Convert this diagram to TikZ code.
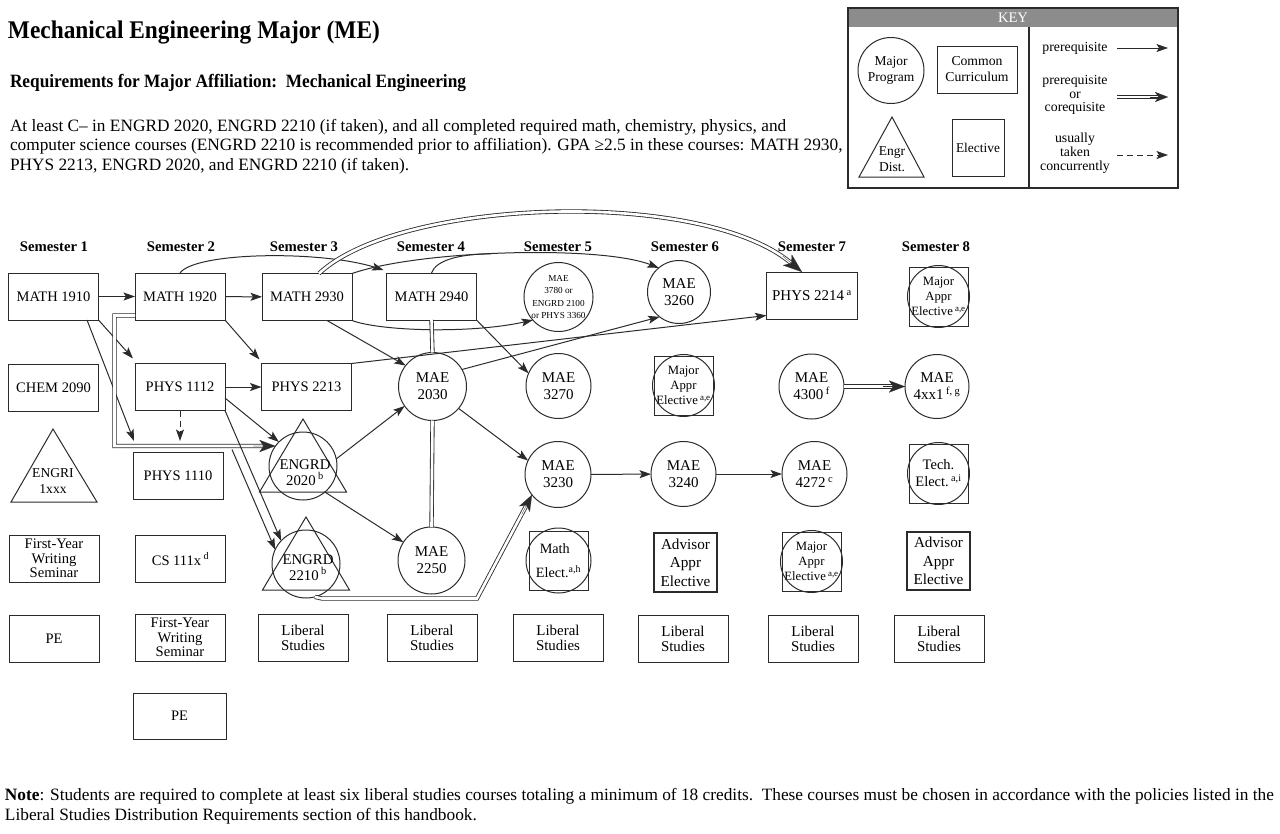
\documentclass[tikz,border=0pt]{standalone}
\usepackage{fontspec}
\setmainfont{Liberation Serif}
\newfontfamily\hdfont{Liberation Serif}[FakeStretch=0.92]
\usetikzlibrary{arrows.meta,calc}
\definecolor{lc}{gray}{0.17}
\definecolor{keygray}{gray}{0.55}
\newcommand{\fs}[2]{\fontsize{#1}{#2}\selectfont}
\begin{document}
\begin{tikzpicture}[x=1pt,y=-1pt,
  every node/.style={inner sep=0pt, outer sep=0pt, align=center},
  box/.style={draw=lc, line width=1pt, minimum width=90pt, minimum height=47pt, font=\fs{14.5}{15}},
  circ/.style={draw=lc, circle, line width=1pt, font=\fs{15}{17}},
  sqr/.style={draw=lc, line width=1pt, minimum width=59pt, minimum height=59pt, font=\fs{12.7}{15}},
  ring/.style={lc, line width=1pt},
  sem/.style={font=\bfseries\fs{14.7}{16}},
  pre/.style={lc, line width=1pt, -{Stealth[length=11.5pt 0,width=8pt 0,inset=2.5pt 0]}},
  dbln/.style={lc, line width=0.85pt, double=white, double distance=2.6pt},
  dbl/.style={dbln, shorten >=13pt},
  tipbig/.style={lc, line width=0.1pt, fill=lc, -{Stealth[length=16pt 0,width=12pt 0,inset=4pt 0]}},
  tiphuge/.style={lc, line width=0.1pt, fill=lc, -{Stealth[length=19pt 0,width=14pt 0,inset=5pt 0]}},
  tipkey/.style={lc, line width=0.1pt, fill=lc, -{Stealth[length=13pt 0,width=10pt 0,inset=3.5pt 0]}},
  para/.style={anchor=base west, font=\fs{17.3}{19}},
]
\useasboundingbox (0,0) rectangle (1280,833);

% ---------- header texts ----------
\node[anchor=base west, font=\hdfont\bfseries\fs{25.4}{28}] (title) at (8,38) {Mechanical Engineering Major (ME)};
\node[anchor=base west, font=\hdfont\bfseries\fs{18.8}{20}] (subtitle) at (10,87) {Requirements for Major Affiliation:\ \ Mechanical Engineering};
\node[para] (p1) at (10,131) {At least C– in ENGRD 2020, ENGRD 2210 (if taken), and all completed required math, chemistry, physics, and};
\node[para] (p2) at (10,150) {computer science courses (ENGRD 2210 is recommended prior to affiliation). GPA ≥2.5 in these courses: MATH 2930,};
\node[para] (p3) at (10,170) {PHYS 2213, ENGRD 2020, and ENGRD 2210 (if taken).};
\node[para] (n1) at (5,800) {\textbf{Note}: Students are required to complete at least six liberal studies courses totaling a minimum of 18 credits.\ \ These courses must be chosen in accordance with the policies listed in the};
\node[para] (n2) at (5,820) {Liberal Studies Distribution Requirements section of this handbook.};

% ---------- key ----------
\fill[keygray] (848,8) rectangle (1178,27);
\node[text=white, font=\fs{14.6}{16}] (keyt) at (1013,18) {KEY};
\draw[lc, line width=1.3pt] (848,8) rectangle (1178,188);
\draw[lc, line width=1.3pt] (1029,27) -- (1029,188);
\node[circ, minimum size=66pt, font=\fs{13.5}{16}] (kmaj) at (891,70.5) {Major\\Program};
\node[box, minimum width=80pt, minimum height=47pt, font=\fs{13.7}{16}] (kcom) at (977,69.5) {Common\\Curriculum};
\draw[ring] (892,117) -- (924,177) -- (859,177) -- cycle;
\node[font=\fs{13.5}{16}] (keng) at (892,159) {Engr\\Dist.};
\node[box, minimum width=52pt, minimum height=57pt, font=\fs{13.4}{16}] (kel) at (978,147.5) {Elective};
\node[font=\fs{13.8}{13.5}] (kt1) at (1075,48) {prerequisite};
\node[font=\fs{13.8}{13.5}] (kt2) at (1075,95) {prerequisite\\or\\corequisite};
\node[font=\fs{13.8}{13.8}] (kt3) at (1075,153) {usually\\taken\\concurrently};
\coordinate (ka1) at (1117,48);  \coordinate (kb1) at (1168,48);
\coordinate (ka2) at (1117,97);  \coordinate (kb2) at (1168,97);
\coordinate (ka3) at (1117,155); \coordinate (kb3) at (1168,155);
\coordinate (kc2) at (1150,97);
\draw[pre] (ka1) -- (kb1);
\draw[dbln, shorten >=10pt] (ka2) -- (kb2);
\draw[tipkey] (kc2) -- (kb2);
\draw[pre, dashed, dash pattern=on 6pt off 4pt] (ka3) -- (kb3);

% ---------- semester labels ----------
\node[sem] (s1) at (54,247) {Semester 1};
\node[sem] (s2) at (181,247) {Semester 2};
\node[sem] (s3) at (304,247) {Semester 3};
\node[sem] (s4) at (431,247) {Semester 4};
\node[sem] (s5) at (558,247) {Semester 5};
\node[sem] (s6) at (685,247) {Semester 6};
\node[sem] (s7) at (812,247) {Semester 7};
\node[sem] (s8) at (936,247) {Semester 8};

% ---------- row 1 ----------
\node[box] (m1910) at (53.5,296.5) {MATH 1910};
\node[box] (m1920) at (180,296.5) {MATH 1920};
\node[box] (m2930) at (307,297) {MATH 2930};
\node[box] (m2940) at (431.5,296.5) {MATH 2940};
\node[circ, minimum size=65pt, font=\fs{9.2}{12.3}] (mae3780) at (558.5,297) {MAE\\3780 or\\ENGRD 2100\\or PHYS 3360};
\node[circ, minimum size=63pt] (mae3260) at (679,292) {MAE\\3260};
\node[box, minimum width=91pt, font=\fs{15}{16}] (p2214) at (812,295.5) {PHYS 2214\,\textsuperscript{a}};
\node[sqr] (maj8) at (938.5,296.5) {Major\\Appr\\Elective\,\textsuperscript{a,e}};
\draw[ring] (maj8.center) circle[radius=31];

% ---------- row 2 ----------
\node[box] (chem) at (53.5,388) {CHEM 2090};
\node[box] (p1112) at (180,387) {PHYS 1112};
\node[box] (p2213) at (306.5,387) {PHYS 2213};
\node[circ, minimum size=68pt] (mae2030) at (432.5,386.5) {MAE\\2030};
\node[circ, minimum size=65pt] (mae3270) at (558.5,386) {MAE\\3270};
\node[sqr] (maj6) at (683.5,385.5) {Major\\Appr\\Elective\,\textsuperscript{a,e}};
\draw[ring] (maj6.center) circle[radius=31];
\node[circ, minimum size=65pt] (mae4300) at (811.5,386.5) {MAE\\4300\,\textsuperscript{f}};
\node[circ, minimum size=64pt] (mae4xx1) at (937,386.5) {MAE\\4xx1\,\textsuperscript{f, g}};

% ---------- row 3 ----------
\draw[ring] (53,429) -- (97,502) -- (11,502) -- cycle;
\node[font=\fs{13.6}{16}] (engri) at (53,481) {ENGRI\\1xxx};
\node[box] (p1110) at (178,475.5) {PHYS 1110};
\node[circ, minimum size=68pt] (e2020) at (303,466) {};
\draw[ring] (e2020.center) ++(0,-47) -- ++(43.5,73) -- ++(-87,0) -- cycle;
\node[font=\fs{14.8}{15.5}] (e2020t) at (305,472.5) {ENGRD\\2020\,\textsuperscript{b}};
\node[circ, minimum size=66pt] (mae3230) at (558,474.5) {MAE\\3230};
\node[circ, minimum size=65pt] (mae3240) at (683.5,474) {MAE\\3240};
\node[circ, minimum size=65pt] (mae4272) at (814.5,474) {MAE\\4272\,\textsuperscript{c}};
\node[sqr, font=\fs{14.5}{17}] (tech8) at (938.5,473.5) {Tech.\\Elect.\,\textsuperscript{a,i}};
\draw[ring] (tech8.center) circle[radius=31];

% ---------- row 4 ----------
\node[box, font=\fs{14.6}{14.5}] (fyws1) at (54,558.5) {First-Year\\Writing\\Seminar};
\node[box] (cs111) at (180.5,559) {CS 111x\,\textsuperscript{d}};
\node[circ, minimum size=68pt] (e2210) at (306,564) {};
\draw[ring] (e2210.center) ++(0,-47) -- ++(43.5,73) -- ++(-87,0) -- cycle;
\node[font=\fs{14.8}{15.5}] (e2210t) at (308,567.5) {ENGRD\\2210\,\textsuperscript{b}};
\node[circ, minimum size=67pt] (mae2250) at (431.5,560.5) {MAE\\2250};
\node[sqr, font=\fs{14.2}{24}] (mathel) at (558.5,560.5) {Math\phantom{t.}\\Elect.\textsuperscript{a,h}};
\draw[ring] (mathel.center) circle[radius=32.5];
\node[box, minimum width=63pt, minimum height=59pt, line width=1.3pt, font=\fs{15.2}{18.5}] (adv6) at (685.5,562.5) {Advisor\\Appr\\Elective};
\node[sqr] (maj7) at (811.5,561.5) {Major\\Appr\\Elective\,\textsuperscript{a,e}};
\draw[ring] (maj7.center) circle[radius=31];
\node[box, minimum width=63pt, minimum height=58pt, line width=1.3pt, font=\fs{15.2}{18.5}] (adv8) at (938.5,561) {Advisor\\Appr\\Elective};

% ---------- row 5 ----------
\node[box] (pe1) at (54,638.5) {PE};
\node[box, font=\fs{14.6}{14.5}] (fyws2) at (180,637.5) {First-Year\\Writing\\Seminar};
\node[box, font=\fs{14.9}{15}] (ls3) at (303,637.5) {Liberal\\Studies};
\node[box, font=\fs{14.9}{15}] (ls4) at (432,637.5) {Liberal\\Studies};
\node[box, font=\fs{14.9}{15}] (ls5) at (558,637.5) {Liberal\\Studies};
\node[box, font=\fs{14.9}{15}] (ls6) at (683,638.5) {Liberal\\Studies};
\node[box, font=\fs{14.9}{15}] (ls7) at (813,639) {Liberal\\Studies};
\node[box, font=\fs{14.9}{15}] (ls8) at (939,638.5) {Liberal\\Studies};

% ---------- row 6 ----------
\node[box, minimum width=93pt, minimum height=46pt] (pe2) at (179.5,716) {PE};

% ---------- connectors ----------
\coordinate (j1) at (134,441);
\coordinate (j2) at (180,441);
\coordinate (j3) at (232,449.5);
\coordinate (c1) at (114.5,315.5);
\coordinate (c2) at (114.5,446);
\coordinate (c3) at (322,598.5);
\coordinate (c4) at (477,598.5);
\coordinate (p2214in) at ([xshift=-10pt]p2214.north);
\coordinate (arcc2) at (700,188);

\draw[pre] (m1910) -- (m1920);
\draw[pre] (m1920) -- (m2930);
\draw[pre] (m1910.south east) -- ([shift={(-2pt,5pt)}]p1112.north west);
\draw[pre] ([xshift=-11.5pt]m1910.south east) -- (j1);
\draw[pre, dashed, dash pattern=on 6pt off 4pt] (p1112.south) -- (j2);
\draw[dbl] ([yshift=-19pt]m1920.west) -- (c1) -- (c2) -- (e2020.144);
\draw[tipbig] ($(e2020.144)!22pt!(c2)$) -- (e2020.144);
\draw[pre] (m1920.south east) -- ([shift={(-2pt,4pt)}]p2213.north west);
\draw[pre] (p1112) -- (p2213);
\draw[pre] ([yshift=-11pt]p1112.east) -- (e2020.135);
\draw[pre] (p1112.south east) -- (e2210.137);
\draw[pre] (j3) -- (e2210.155);

\draw[pre] (m1920.north) .. controls (195,252) and (320,250) .. ([shift={(-3pt,3pt)}]m2940.north west);
\draw[pre] (m2930.north east) .. controls (420,250) and (600,245) .. coordinate[pos=0.45] (jm) (mae3260.130);
\draw[lc, line width=1pt] (m2940.north) .. controls (436,260) and (460,254) .. (jm);
\draw[dbln, shorten >=15pt] ([xshift=12pt]m2930.north) .. controls (400,198) and (arcc2) .. (p2214in);
\draw[tiphuge] ($(p2214in)!25pt!(arcc2)$) -- (p2214in);
\draw[pre] (m2930.south east) .. controls (380,331) and (470,334) .. (mae3780.222);
\draw[pre] ([xshift=20pt]m2930.south) -- (mae2030.142);
\draw[dbln] (m2940.south) -- (mae2030.north);
\draw[dbln] (mae2030.south) -- (mae2250.north);
\draw[pre] (m2940.south east) -- (mae3270.157);
\draw[pre] (mae2030.30) -- (mae3260.232);
\draw[pre] (p2213.north east) -- ([yshift=-20pt]p2214.west);
\draw[pre] (mae2030.320) -- (mae3230.155);
\draw[pre] (e2020.12) -- (mae2030.215);
\draw[pre] (e2020.310) -- (mae2250.147);
\draw[dbl] (e2210.285) -- (c3) -- (c4) -- (mae3230.218);
\draw[tipbig] ($(mae3230.218)!22pt!(c4)$) -- (mae3230.218);
\draw[pre] (mae3230) -- (mae3240);
\draw[pre] (mae3240) -- (mae4272);
\draw[dbl] (mae4300.east) -- (mae4xx1.west);
\draw[tipbig] ($(mae4xx1.west)!22pt!(mae4300.east)$) -- (mae4xx1.west);
\end{tikzpicture}
\end{document}
